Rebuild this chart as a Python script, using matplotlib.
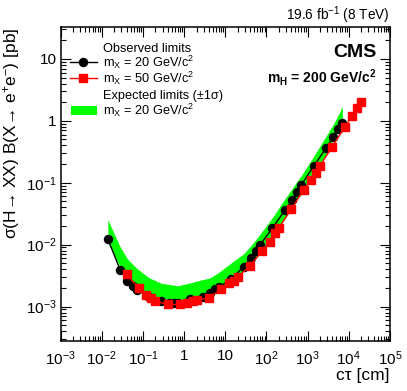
import matplotlib
matplotlib.use("Agg")
import matplotlib.pyplot as plt
from matplotlib.lines import Line2D
from matplotlib.patches import Rectangle
from matplotlib.ticker import LogLocator, FuncFormatter, NullFormatter
import numpy as np

plt.rcParams["font.family"] = ["Liberation Sans", "DejaVu Sans"]
plt.rcParams["mathtext.fontset"] = "custom"
plt.rcParams["mathtext.rm"] = "Liberation Sans"
plt.rcParams["mathtext.it"] = "Liberation Sans:italic"
plt.rcParams["mathtext.bf"] = "Liberation Sans:bold"

# observed limit, m_X = 20 GeV
ctau_20 = [0.014, 0.028, 0.042, 0.056, 0.07,
           0.14, 0.28, 0.42, 0.56, 0.7,
           1.4, 2.8, 4.2, 5.6, 7.0,
           14, 28, 42, 56, 70,
           140, 280, 420, 560, 700,
           1400, 2800, 4200, 5600, 7000]
obs_20 = [0.0123, 0.0039, 0.0026, 0.00216, 0.00186,
          0.00144, 0.00121, 0.00115, 0.00113, 0.00115,
          0.00132, 0.00145, 0.00167, 0.0019, 0.00206,
          0.00277, 0.00443, 0.00605, 0.0080, 0.0099,
          0.0185, 0.0358, 0.0524, 0.072, 0.092,
          0.184, 0.362, 0.546, 0.735, 0.94]
# expected limit +-1 sigma band, m_X = 20 GeV
exp_20_up = [0.0252, 0.0092, 0.00587, 0.00484, 0.00417,
             0.00292, 0.00237, 0.00228, 0.00221, 0.00216,
             0.00241, 0.00272, 0.00288, 0.00325, 0.00357,
             0.00508, 0.0071, 0.00964, 0.0122, 0.0148,
             0.0274, 0.0547, 0.0803, 0.106, 0.130,
             0.266, 0.564, 0.875, 1.26, 1.70]
exp_20_dn = [0.0107, 0.00437, 0.00304, 0.00249, 0.00222,
             0.00159, 0.00135, 0.00132, 0.00130, 0.00129,
             0.00135, 0.00152, 0.00164, 0.00181, 0.00195,
             0.00251, 0.00376, 0.00487, 0.00617, 0.00748,
             0.0138, 0.0261, 0.0397, 0.0543, 0.0689,
             0.132, 0.288, 0.501, 0.721, 0.975]

# observed limit, m_X = 50 GeV
ctau_50 = [0.04, 0.08, 0.12, 0.16, 0.2,
           0.4, 0.8, 1.2, 1.6, 2.0,
           4, 8, 12, 16, 20,
           40, 80, 120, 160, 200,
           400, 800, 1200, 1600, 2000,
           4000, 8000, 12000, 16000, 20000]
obs_50 = [0.00329, 0.0020, 0.00153, 0.00138, 0.00122,
          0.00108, 0.00108, 0.00116, 0.00121, 0.00127,
          0.00138, 0.00190, 0.00240, 0.0026, 0.00299,
          0.00455, 0.0080, 0.0112, 0.0153, 0.0185,
          0.0374, 0.0767, 0.111, 0.145, 0.187,
          0.385, 0.79, 1.21, 1.6, 1.98]

legend_labels = [
    "Observed limits",
    r"m$_{\mathrm{X}}$ = 20 GeV/c$^{2}$",
    r"m$_{\mathrm{X}}$ = 50 GeV/c$^{2}$",
    "Expected limits (\u00b11\u03c3)",
    r"m$_{\mathrm{X}}$ = 20 GeV/c$^{2}$",
]

GREEN = "#00ff00"
RED = "#ff0000"
LEG_FS = 9.2


def log_label(v, pos):
    e = int(round(np.log10(v)))
    if e == 0:
        return "1"
    if e == 1:
        return "10"
    return r"10$^{%d}$" % e


fig = plt.figure(figsize=(4.07, 3.91), dpi=100)
ax = fig.add_axes([0.149, 0.1286, 0.809, 0.8016])

ax.fill_between(ctau_20, exp_20_dn, exp_20_up, color=GREEN, linewidth=0, zorder=1)
ax.plot(ctau_20, obs_20, color="black", linewidth=1.0, marker="o", markersize=5.8, zorder=3)
ax.plot(ctau_50, obs_50, color=RED, linewidth=1.0, marker="s", markersize=5.6, zorder=4)

ax.set_xscale("log")
ax.set_yscale("log")
ax.set_xlim(1e-3, 1e5)
ax.set_ylim(2.8e-4, 32.5)

for axis in (ax.xaxis, ax.yaxis):
    axis.set_major_locator(LogLocator(base=10, numticks=20))
    axis.set_minor_locator(LogLocator(base=10, subs=np.arange(2, 10), numticks=200))
    axis.set_major_formatter(FuncFormatter(log_label))
    axis.set_minor_formatter(NullFormatter())

ax.tick_params(which="both", direction="in", top=True, right=True, width=0.8, labelsize=11)
ax.tick_params(which="major", length=7.2)
ax.tick_params(which="minor", length=3.6)
ax.tick_params(axis="x", pad=6)
ax.tick_params(axis="y", pad=3)
for sp in ax.spines.values():
    sp.set_linewidth(1.1)

ax.set_xlabel("c\u03c4 [cm]", fontsize=12.5, loc="right", labelpad=0)
ax.set_ylabel("\u03c3(H\u2192 XX) B(X\u2192 e$^{+}$e$^{-}$) [pb]",
              fontsize=12.5, loc="top", labelpad=3)

fig.text(0.958, 0.962, r"19.6 fb$^{-1}$ (8 TeV)", ha="right", va="center", fontsize=9.8)
ax.text(0.958, 0.92, "CMS", transform=ax.transAxes, ha="right", va="center",
        fontsize=14, fontweight="bold")
ax.text(0.958, 0.84, r"$\mathbf{m_{H}}$ = 200 GeV/c$^{\mathbf{2}}$", transform=ax.transAxes,
        ha="right", va="center", fontsize=10, fontweight="bold")

# legend, drawn by hand to get the ROOT-like layout
row_y = [0.935, 0.888, 0.837, 0.785, 0.734]
text_x = 0.1285
for y, lab in zip(row_y, legend_labels):
    ax.text(text_x, y - 0.015, lab, transform=ax.transAxes, ha="left", va="baseline",
            fontsize=LEG_FS)
ax.add_line(Line2D([0.028, 0.109], [row_y[1]] * 2, transform=ax.transAxes, color="black",
                   linewidth=1.0))
ax.add_line(Line2D([0.0687], [row_y[1]], transform=ax.transAxes, color="black",
                   marker="o", markersize=5.8))
ax.add_line(Line2D([0.028, 0.109], [row_y[2]] * 2, transform=ax.transAxes, color=RED,
                   linewidth=1.0))
ax.add_line(Line2D([0.0687], [row_y[2]], transform=ax.transAxes, color=RED,
                   marker="s", markersize=5.6))
ax.add_patch(Rectangle((0.031, 0.7214), 0.078, 0.0265, transform=ax.transAxes,
                       facecolor=GREEN, edgecolor="none"))

fig.savefig("out.png", dpi=100)
